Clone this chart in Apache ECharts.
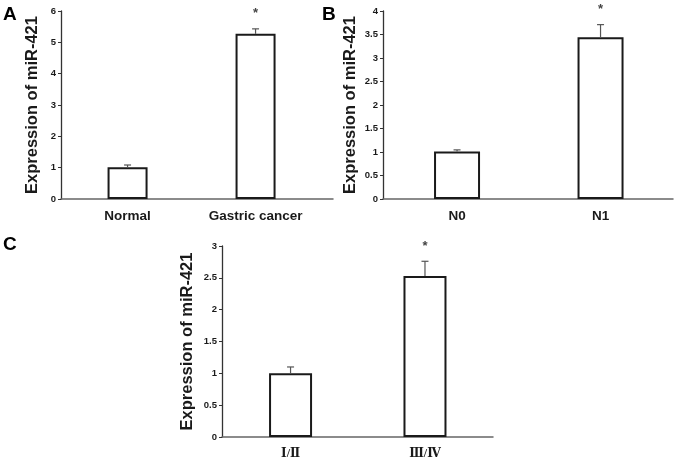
<!DOCTYPE html>
<html>
<head>
<meta charset="utf-8">
<script src="https://cdn.jsdelivr.net/npm/echarts@6/dist/echarts.min.js"></script>
<style>
html,body{margin:0;padding:0;background:#fff;}
#c{width:677px;height:463px;}
</style>
</head>
<body>
<div id="c"></div>
<script>
// ---- data ----
const catsA = ['Normal', 'Gastric cancer'];
const valsA = [1.01, 5.27];
const errA = [0.075, 0.16];
const sigA = ['', '*'];

const catsB = ['N0', 'N1'];
const valsB = [1.01, 3.44];
const errB = [0.035, 0.27];
const sigB = ['', '*'];

const catsC = ['Ⅰ/Ⅱ', 'Ⅲ/Ⅳ'];
const valsC = [1.0, 2.53];
const errC = [0.10, 0.23];
const sigC = ['', '*'];

const yMaxA = 6, yStepA = 1;
const yMaxB = 4, yStepB = 0.5;
const yMaxC = 3, yStepC = 0.5;

const yName = 'Expression of miR-421';
const FONT = '"Liberation Sans", Arial, sans-serif';

const panels = [
  {cats: catsA, vals: valsA, errs: errA, sig: sigA, yMax: yMaxA, yStep: yStepA,
   grid: {left: 61, top: 11, width: 272, height: 188}, xmin: -0.52, xmax: 1.605,
   barWidth: 40, nameGap: 20, catFont: 13.5, catFamily: FONT, catMargin: 10},
  {cats: catsB, vals: valsB, errs: errB, sig: sigB, yMax: yMaxB, yStep: yStepB,
   grid: {left: 383, top: 11, width: 290, height: 188}, xmin: -0.516, xmax: 1.505,
   barWidth: 46, nameGap: 24, catFont: 13.5, catFamily: FONT, catMargin: 10},
  {cats: catsC, vals: valsC, errs: errC, sig: sigC, yMax: yMaxC, yStep: yStepC,
   grid: {left: 222, top: 246, width: 271, height: 191}, xmin: -0.51, xmax: 1.506,
   barWidth: 43, nameGap: 26, catFont: 12, catFamily: '"Liberation Serif", "DejaVu Serif", serif', catMargin: 11}
];

const grids = [], xAxes = [], yAxes = [], series = [];
panels.forEach((p, i) => {
  grids.push(Object.assign({containLabel: false}, p.grid));
  xAxes.push({
    type: 'value', gridIndex: i, min: p.xmin, max: p.xmax,
    axisLine: {show: true, onZero: false, lineStyle: {color: '#666', width: 1.5}},
    axisTick: {show: false},
    splitLine: {show: false},
    axisLabel: {
      customValues: [0, 1],
      formatter: v => p.cats[Math.round(v)],
      fontFamily: p.catFamily, fontWeight: 'bold', fontSize: p.catFont,
      color: '#1a1a1a', margin: p.catMargin
    }
  });
  yAxes.push({
    type: 'value', gridIndex: i, min: 0, max: p.yMax, interval: p.yStep,
    name: yName, nameLocation: 'middle', nameGap: p.nameGap,
    nameTextStyle: {fontFamily: FONT, fontWeight: 'bold', fontSize: 16.5, color: '#1a1a1a'},
    axisLine: {show: true, onZero: false, lineStyle: {color: '#333', width: 1.3}},
    axisTick: {show: true, inside: false, length: 3, lineStyle: {color: '#333', width: 1}},
    splitLine: {show: false},
    axisLabel: {fontFamily: FONT, fontWeight: 'bold', fontSize: 9.5, color: '#1a1a1a', margin: 5}
  });
  series.push({
    type: 'bar', xAxisIndex: i, yAxisIndex: i,
    barWidth: p.barWidth,
    data: p.vals.map((v, k) => [k, v]),
    itemStyle: {color: '#fff', borderColor: '#1a1a1a', borderWidth: 2},
    silent: true, z: 2
  });
  series.push({
    type: 'custom', xAxisIndex: i, yAxisIndex: i, z: 3, silent: true,
    data: p.vals.map((v, k) => [k, v, p.errs[k]]),
    renderItem: (params, api) => {
      const x = api.value(0), v = api.value(1), e = api.value(2);
      const p0 = api.coord([x, v]);
      const p1 = api.coord([x, v + e]);
      const children = [
        {type: 'line', shape: {x1: p0[0], y1: p0[1], x2: p1[0], y2: p1[1]},
         style: {stroke: '#555', lineWidth: 1.2}},
        {type: 'line', shape: {x1: p1[0] - 3.5, y1: p1[1], x2: p1[0] + 3.5, y2: p1[1]},
         style: {stroke: '#555', lineWidth: 1.2}}
      ];
      const s = p.sig[params.dataIndex];
      if (s) {
        children.push({type: 'text', x: p1[0], y: p1[1] - 15,
          style: {text: s, font: 'bold 13px "Liberation Sans", Arial, sans-serif',
            fill: '#444', align: 'center', verticalAlign: 'middle'}});
      }
      return {type: 'group', children};
    }
  });
});

const chart = echarts.init(document.getElementById('c'), null, {renderer: 'canvas'});
chart.setOption({
  backgroundColor: '#fff',
  animation: false,
  grid: grids,
  xAxis: xAxes,
  yAxis: yAxes,
  series: series,
  graphic: [
    {type: 'text', left: 3, top: 5, style: {text: 'A', font: 'bold 19px "Liberation Sans", Arial, sans-serif', fill: '#000'}},
    {type: 'text', left: 322, top: 5, style: {text: 'B', font: 'bold 19px "Liberation Sans", Arial, sans-serif', fill: '#000'}},
    {type: 'text', left: 3, top: 235, style: {text: 'C', font: 'bold 19px "Liberation Sans", Arial, sans-serif', fill: '#000'}}
  ]
});
</script>
</body>
</html>
